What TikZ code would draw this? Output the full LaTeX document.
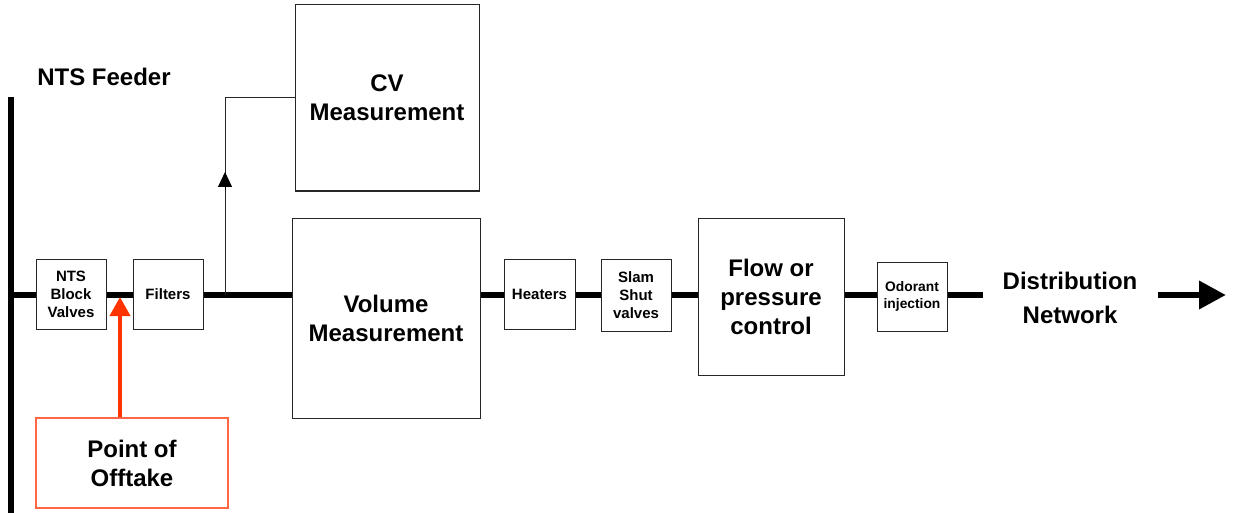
\documentclass[tikz,border=0pt]{standalone}
\usepackage{fontspec}
\setmainfont{Liberation Sans}
\usetikzlibrary{arrows.meta}
\tikzset{
  blk/.style={draw=black!85, line width=1pt, fill=white, inner sep=0pt, align=center},
  small/.style={blk, font=\fontsize{15}{18}\selectfont\bfseries},
  big/.style={blk, font=\fontsize{24}{29}\selectfont\bfseries},
  lbl/.style={inner sep=0pt, align=center},
  pipe/.style={line width=6.5pt},
}
\begin{document}
\begin{tikzpicture}[x=1pt,y=-1pt]
\useasboundingbox (0,0) rectangle (1233,513);
% feeder bar
\coordinate (bt) at (11,97);
\coordinate (bb) at (11,513);
\draw[line width=6.5pt] (bt) -- (bb);
\node[lbl, font=\fontsize{24}{29}\selectfont\bfseries] (feeder) at (104,77) {NTS Feeder};
% main pipe
\coordinate (ps) at (11,295);
\coordinate (pe) at (983,295);
\draw[pipe] (ps) -- (pe);
% branch junction
\coordinate (j) at (225,295);
% boxes
\node[small, minimum width=70pt, minimum height=70pt] (nts) at (71,294) {NTS\\Block\\Valves};
\node[small, minimum width=70pt, minimum height=70pt] (filt) at (168,294) {Filters};
\node[big, minimum width=184pt, minimum height=186pt] (cv) at (387,98) {CV\\Measurement};
\node[big, minimum width=188pt, minimum height=200pt] (vol) at (386,318) {Volume\\Measurement};
\node[small, minimum width=71pt, minimum height=70pt] (heat) at (539.5,294) {Heaters};
\node[small, minimum width=70pt, minimum height=72pt] (slam) at (636,295) {Slam\\Shut\\valves};
\node[big, minimum width=146pt, minimum height=157pt] (flow) at (771,296.5) {Flow or\\pressure\\control};
\node[blk, font=\fontsize{13.8}{17}\selectfont\bfseries, minimum width=70pt, minimum height=69pt] (odor) at (912,296.5) {Odorant\\injection};
\node[lbl, font=\fontsize{24}{34}\selectfont\bfseries] (dist) at (1070,298) {Distribution\\Network};
% branch to CV
\draw[line width=1pt, draw=black!85] (j) |- (cv.west);
\coordinate (ab) at (225,190);
\coordinate (at) at (225,172);
\draw[line width=1pt, -{Triangle[length=15pt, width=14pt]}] (ab) -- (at);
% distribution arrow
\coordinate (da) at (1158,295);
\coordinate (db) at (1226,295);
\draw[pipe, -{Triangle[length=27pt, width=27pt]}] (da) -- (db);
% point of offtake
\node[blk, draw={rgb,255:red,255;green,102;blue,70}, line width=1.5pt, font=\fontsize{24}{29}\selectfont\bfseries, minimum width=192pt, minimum height=90pt] (poff) at (132,463) {Point of\\Offtake};
\coordinate (rt) at (120,297);
\draw[draw={rgb,255:red,255;green,51;blue,0}, line width=4pt, -{Triangle[length=19pt, width=20pt]}] (poff.north -| rt) -- (rt);
\end{tikzpicture}
\end{document}
